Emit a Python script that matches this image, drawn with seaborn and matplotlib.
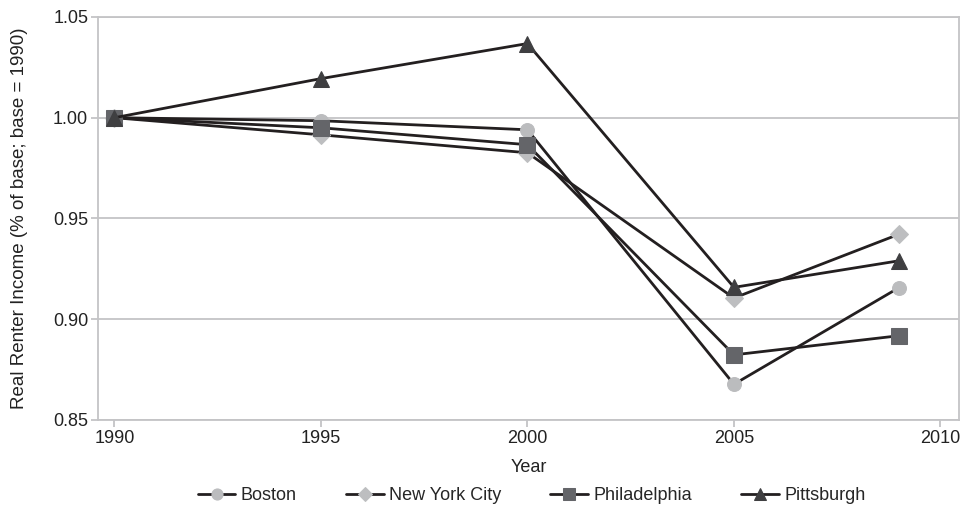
import pandas as pd
import numpy as np
import matplotlib.pyplot as plt
import seaborn as sns

years = [1990, 1995, 2000, 2005, 2009]
boston = [1.000, 0.9985, 0.9940, 0.8677, 0.9157]
nyc = [1.000, 0.9915, 0.9826, 0.9105, 0.9422]
philadelphia = [1.000, 0.9950, 0.9866, 0.8823, 0.8918]
pittsburgh = [1.000, 1.0194, 1.0368, 0.9158, 0.9290]

cities = ['Boston', 'New York City', 'Philadelphia', 'Pittsburgh']
series = [boston, nyc, philadelphia, pittsburgh]
markers = ['o', 'D', 's', '^']
marker_colors = ['#bbbcbe', '#bdbec0', '#646569', '#3f3f41']
marker_sizes = [10, 9, 11, 11]

df = pd.DataFrame({
    'Year': years * len(cities),
    'Value': sum(series, []),
    'City': np.repeat(cities, len(years)),
})

sns.set_style('white')
plt.rcParams['font.family'] = ['Liberation Sans', 'DejaVu Sans']
fs = 13

fig = plt.figure(figsize=(9.68, 5.14), dpi=100)
ax = fig.add_axes([0.1012, 0.183, 0.8895, 0.784])

for city, m, mc, ms in zip(cities, markers, marker_colors, marker_sizes):
    sns.lineplot(data=df[df['City'] == city], x='Year', y='Value', ax=ax,
                 color='#231f20', linewidth=2.0, marker=m, markersize=ms,
                 markerfacecolor=mc, markeredgecolor=mc, label=city)

ax.set_xlim(1989.6, 2010.45)
ax.set_ylim(0.85, 1.05)
ax.set_xticks([1990, 1995, 2000, 2005, 2010])
ax.set_yticks([0.85, 0.90, 0.95, 1.00, 1.05])
ax.set_yticklabels(['0.85', '0.90', '0.95', '1.00', '1.05'])
ax.yaxis.grid(True, color='#c4c4c6', linewidth=1.3)
ax.set_axisbelow(True)
for s in ax.spines.values():
    s.set_color('#c4c4c6')
    s.set_linewidth(1.3)
ax.tick_params(axis='both', direction='out', length=5, width=1.3, color='#c4c4c6',
               labelsize=fs, labelcolor='#222222', pad=2, left=True, bottom=True)
ax.set_xlabel('Year', fontsize=fs, color='#222222', labelpad=9)
ax.set_ylabel('Real Renter Income (% of base; base = 1990)', fontsize=13.5,
              color='#222222', labelpad=18)

handles, labels = ax.get_legend_handles_labels()
ax.legend_.remove()
fig.legend(handles, labels, loc='lower center', ncol=4, frameon=False,
           fontsize=fs, bbox_to_anchor=(0.549, -0.012), handlelength=2.1,
           handletextpad=0.3, columnspacing=2.7, markerscale=0.8)

fig.savefig('out.png', dpi=100)
